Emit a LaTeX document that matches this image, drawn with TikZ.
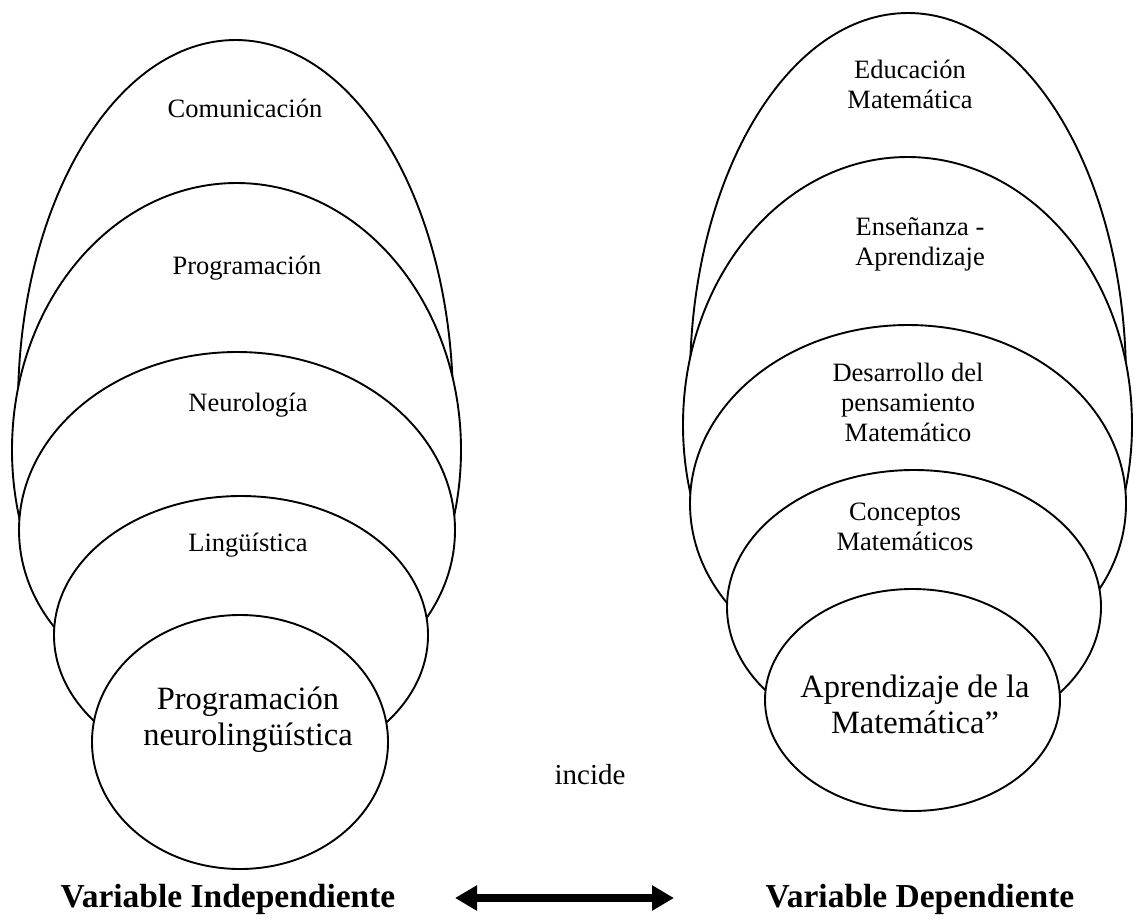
\documentclass[tikz,border=0pt]{standalone}
\usepackage{fontspec}
\setmainfont{Liberation Serif}
\usetikzlibrary{arrows.meta}
\begin{document}
\begin{tikzpicture}[x=1pt,y=-1pt,
  ring/.style={draw=black, line width=1.9pt, fill=white},
  lbl/.style={font=\fontsize{26.5}{30}\selectfont, align=center, inner sep=0pt},
  core/.style={font=\fontsize{32.5}{36}\selectfont, align=center, inner sep=0pt},
  varlbl/.style={font=\fontsize{33.5}{38}\selectfont\bfseries, inner sep=0pt},
  link/.style={line width=8pt, {Triangle[width=24pt,length=22pt]}-{Triangle[width=24pt,length=22pt]}},
]
\useasboundingbox (0,0) rectangle (1137,922);

% Independent variable: nested layers, outermost first
\path[ring] (235.5,405) ellipse [x radius=217.5pt, y radius=365pt];
\path[ring] (236.5,450) ellipse [x radius=224.5pt, y radius=267pt];
\path[ring] (237,530)   ellipse [x radius=218pt,   y radius=178pt];
\path[ring] (241,635)   ellipse [x radius=187pt,   y radius=139pt];
\path[ring] (240,742)   ellipse [x radius=148pt,   y radius=127pt];

\node[lbl]  (com)  at (245,108) {Comunicación};
\node[lbl]  (prog) at (247,268) {Programación};
\node[lbl]  (neur) at (248,405) {Neurología};
\node[lbl]  (ling) at (248,545) {Lingüística};
\node[core] (pnl)  at (248,720) {Programación\\neurolingüística};

% Dependent variable: nested layers, outermost first
\path[ring] (908,380)   ellipse [x radius=218pt,   y radius=367pt];
\path[ring] (907.5,425) ellipse [x radius=224.5pt, y radius=268pt];
\path[ring] (908,503.5) ellipse [x radius=218pt,   y radius=178.5pt];
\path[ring] (914,607)   ellipse [x radius=187pt,   y radius=137pt];
\path[ring] (912.5,700) ellipse [x radius=147.5pt, y radius=111pt];

\node[lbl]  (edu)  at (910,84)  {Educación\\Matemática};
\node[lbl]  (ens)  at (920,244) {Enseñanza -\\Aprendizaje};
\node[lbl]  (des)  at (908,402) {Desarrollo del\\pensamiento\\Matemático};
\node[lbl]  (conc) at (905,527) {Conceptos\\Matemáticos};
\node[core] (apr)  at (915,704) {Aprendizaje de la\\Matemática”};

\node[font=\fontsize{29}{34}\selectfont, inner sep=0pt] (inc) at (590,775) {incide};

% Variables and the two-way link between them
\node[varlbl] (vi) at (228,899) {Variable Independiente};
\node[varlbl] (vd) at (920,899) {Variable Dependiente};
\coordinate (aL) at (455,898);
\coordinate (aR) at (674,898);
\draw[link] (aL) -- (aR);
\end{tikzpicture}
\end{document}
